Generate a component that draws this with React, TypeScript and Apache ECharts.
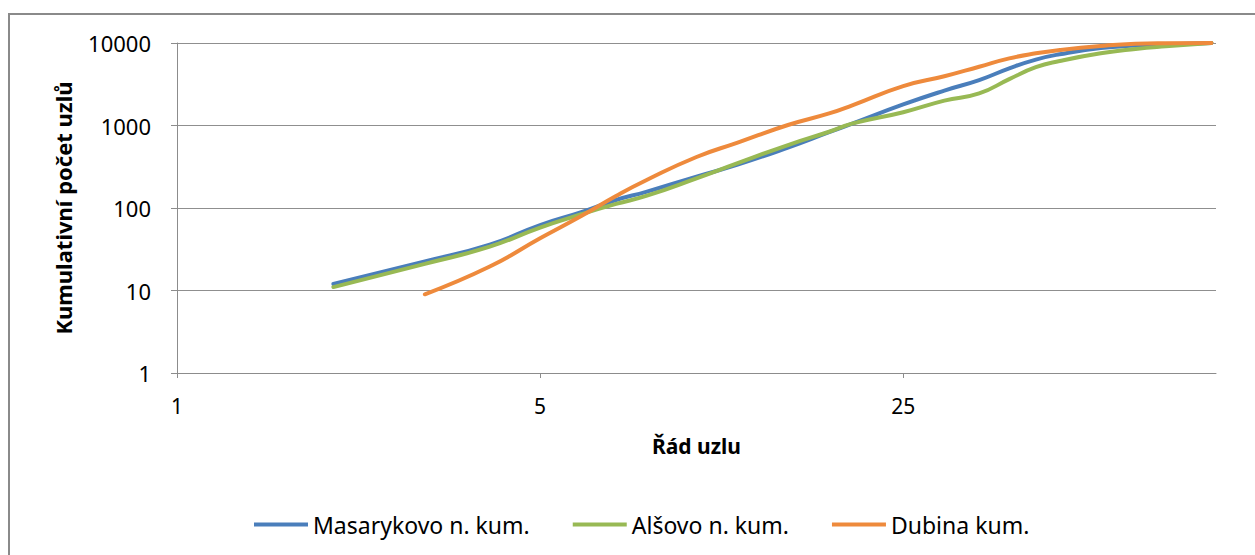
import React, { useEffect, useRef } from "react";
import * as echarts from "echarts";

const X_MAS = [2, 3, 4, 5, 6, 7, 8, 10, 12, 15, 18, 20, 25, 30, 35, 40, 45, 50, 60, 70, 80, 98];
const MASARYKOVO = [12, 22.5, 36, 62, 89, 125, 157, 240, 335, 540, 830, 1060, 1800, 2650, 3550, 4930, 6300, 7300, 8700, 9300, 9600, 10000];
const X_ALS = [2, 3, 4, 5, 6, 7, 8, 10, 12, 15, 18, 20, 25, 30, 35, 40, 45, 50, 60, 70, 80, 98];
const ALSOVO = [11, 21, 34, 58, 84, 112, 140, 229, 350, 580, 840, 1060, 1450, 2000, 2450, 3650, 5100, 6050, 7500, 8450, 9100, 10000];
const X_DUB = [3, 4, 5, 6, 7, 8, 10, 12, 15, 18, 20, 25, 30, 35, 40, 45, 50, 60, 70, 80, 98];
const DUBINA = [9, 19.5, 43, 80, 140, 217, 415, 620, 1014, 1400, 1770, 3000, 3950, 5160, 6510, 7500, 8220, 9200, 9800, 9950, 10000];

const X_TICKS = [1, 5, 25];
const SERIES_NAMES = ["Masarykovo n. kum.", "Alšovo n. kum.", "Dubina kum."];
const COLORS = ["#4A7EBB", "#98B954", "#EE8A3C"];

const FONT = "Noto Sans";

function pairs(xs: number[], ys: number[]) {
  return xs.map((x, i) => [x, ys[i]]);
}

export default function App() {
  const ref = useRef<HTMLDivElement>(null);
  useEffect(() => {
    document.body.style.margin = "0";
    const chart = echarts.init(ref.current!, null, { renderer: "svg" });
    const datasets = [pairs(X_MAS, MASARYKOVO), pairs(X_ALS, ALSOVO), pairs(X_DUB, DUBINA)];
    chart.setOption({
      animation: false,
      backgroundColor: "#ffffff",
      textStyle: { fontFamily: FONT },
      graphic: [
        {
          type: "rect",
          z: -10,
          shape: { x: 9, y: 14, width: 1300, height: 600 },
          style: { fill: "none", stroke: "#8a8a8a", lineWidth: 2 },
        },
      ],
      grid: { left: 177, top: 43, right: 39, bottom: 182 },
      legend: {
        left: 249,
        top: 508,
        icon: "rect",
        itemWidth: 54,
        itemHeight: 4,
        itemGap: 43,
        textStyle: { fontFamily: FONT, fontSize: 23, color: "#000" },
        data: SERIES_NAMES,
      },
      xAxis: {
        type: "log",
        logBase: 5,
        min: 1,
        max: 100,
        name: "Řád uzlu",
        nameLocation: "middle",
        nameGap: 62,
        nameTextStyle: { fontFamily: FONT, fontSize: 21, fontWeight: "bold", color: "#000" },
        axisLine: { show: true, lineStyle: { color: "#8c8c8c", width: 1 } },
        axisTick: { show: true, length: 5, lineStyle: { color: "#8c8c8c" }, customValues: X_TICKS },
        axisLabel: {
          margin: 22,
          fontSize: 21,
          color: "#000",
          fontFamily: FONT,
          customValues: X_TICKS,
        },
        splitLine: { show: false },
      },
      yAxis: {
        type: "log",
        logBase: 10,
        min: 1,
        max: 10000,
        name: "Kumulativní počet uzlů",
        nameLocation: "middle",
        nameGap: 103,
        nameTextStyle: { fontFamily: FONT, fontSize: 22, fontWeight: "bold", color: "#000" },
        axisLine: { show: true, lineStyle: { color: "#8c8c8c", width: 1 } },
        axisTick: { show: true, length: 6, lineStyle: { color: "#8c8c8c" } },
        axisLabel: {
          margin: 26,
          fontSize: 22,
          color: "#000",
          fontFamily: FONT,
          formatter: (v: number) => String(Math.round(v)),
        },
        splitLine: { show: true, lineStyle: { color: "#8f8f8f", width: 1 } },
      },
      series: SERIES_NAMES.map((name, i) => ({
        name,
        type: "line",
        data: datasets[i],
        smooth: 0.5,
        showSymbol: false,
        symbol: "none",
        lineStyle: { color: COLORS[i], width: 4, cap: "round" },
        itemStyle: { color: COLORS[i] },
        z: 2 + i,
      })),
    });
    return () => chart.dispose();
  }, []);
  return <div ref={ref} style={{ width: 1255, height: 555 }} />;
}
